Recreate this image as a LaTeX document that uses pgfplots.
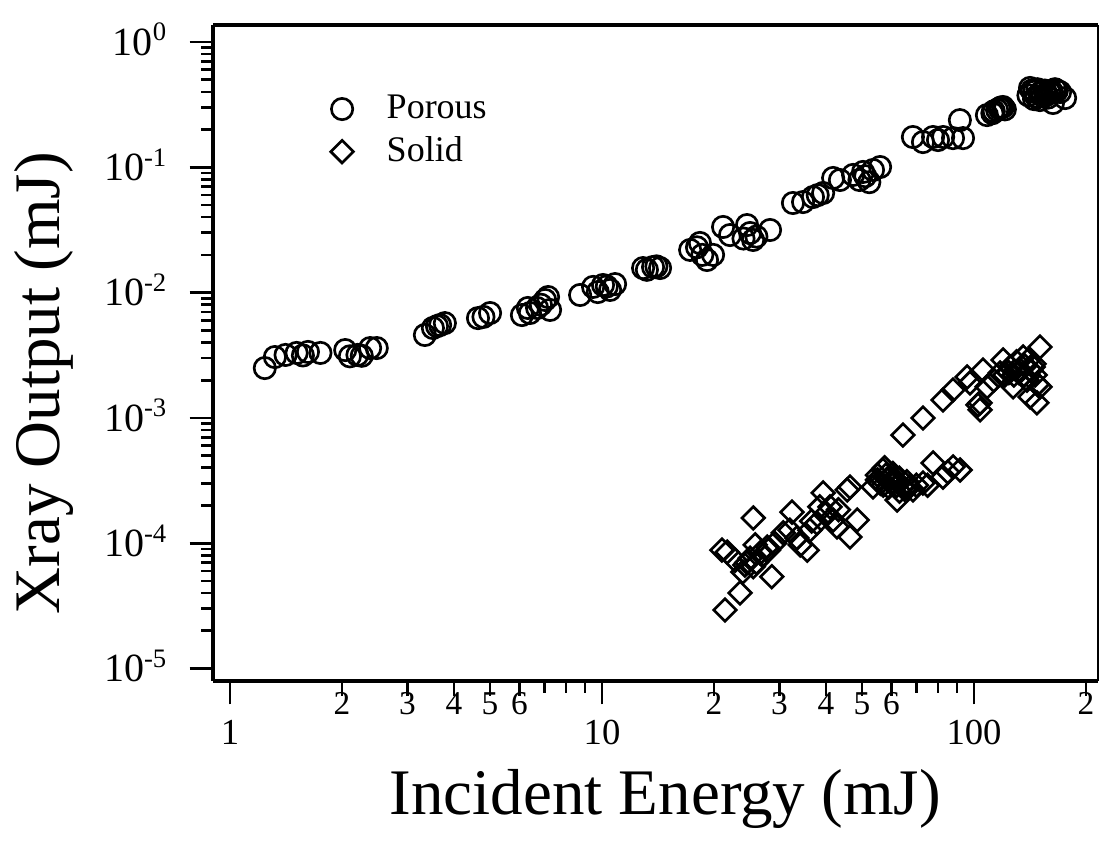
\documentclass[border=0pt]{standalone}
\usepackage{fontspec}
\setmainfont{Liberation Serif}
\usepackage{pgfplots}
\pgfplotsset{compat=1.18}

\pgfplotstableread{
x y
1.24 0.00250
1.32 0.00306
1.41 0.00318
1.51 0.00330
1.57 0.00315
1.62 0.00336
1.75 0.00330
2.04 0.00348
2.10 0.00310
2.20 0.00318
2.26 0.00313
2.38 0.00361
2.48 0.00361
3.34 0.00459
3.51 0.00522
3.60 0.00540
3.67 0.00551
3.78 0.00571
4.64 0.00626
4.80 0.00640
5.00 0.00687
6.09 0.00662
6.32 0.00754
6.40 0.00687
6.69 0.00754
6.85 0.00800
7.03 0.00873
7.16 0.00922
7.25 0.00727
8.73 0.00957
9.46 0.0111
9.74 0.0101
10.06 0.0115
10.3 0.0112
10.51 0.0105
10.84 0.0117
12.89 0.0157
13.2 0.0152
13.71 0.0160
14.0 0.0162
14.32 0.0157
17.25 0.0219
18.0 0.0230
18.33 0.0249
18.6 0.0200
19.15 0.0182
19.88 0.0200
21.15 0.0334
22.08 0.0288
24.0 0.0270
24.53 0.0346
25.0 0.0299
25.47 0.0263
26.0 0.0280
28.29 0.0316
32.6 0.0519
34.7 0.0528
36.9 0.0579
38.0 0.0600
39.3 0.0624
41.8 0.0822
43.6 0.0792
47.3 0.0869
49.2 0.0792
50.3 0.0918
51.0 0.0850
52.3 0.0761
53.5 0.0952
55.9 0.1005
68.5 0.1745
72.9 0.159
77.6 0.1745
80.0 0.165
82.6 0.1745
87.8 0.171
91.6 0.238
93.4 0.171
108.3 0.261
112.0 0.270
113.0 0.280
115.3 0.287
117.0 0.295
118.0 0.300
119.6 0.303
121.0 0.290
140.0 0.375
141.4 0.430
143.0 0.410
145.0 0.400
145.0 0.350
147.0 0.365
148.0 0.420
150.4 0.392
150.4 0.344
152.0 0.400
153.0 0.370
155.0 0.410
157.0 0.380
158.0 0.360
160.0 0.392
162.0 0.400
163.0 0.326
165.0 0.420
167.0 0.410
170.3 0.399
175.7 0.357
}\porous

\pgfplotstableread{
x y
21.0 8.82e-5
21.7 8.5e-5
21.4 2.93e-5
22.8 7.3e-5
23.5 4.01e-5
23.9 5.9e-5
24.2 6.7e-5
24.5 7.0e-5
25.0 7.6e-5
25.5 6.5e-5
25.5 1.59e-4
25.8 9.7e-5
26.0 7.0e-5
26.6 8.36e-5
27.0 8.0e-5
27.8 9.33e-5
28.0 8.8e-5
28.6 5.4e-5
29.1 1.0e-4
30.7 1.21e-4
32.0 1.27e-4
32.4 1.77e-4
33.4 1.10e-4
34.1 9.7e-5
35.6 8.8e-5
36.2 1.27e-4
36.6 1.5e-4
37.8 1.45e-4
38.5 1.95e-4
39.3 2.52e-4
39.8 1.7e-4
41.0 1.95e-4
41.8 1.53e-4
42.8 1.35e-4
43.2 1.85e-4
45.6 2.66e-4
46.4 2.81e-4
46.4 1.12e-4
48.5 1.53e-4
53.5 2.81e-4
55.0 3.2e-4
55.0 3.5e-4
56.0 3.0e-4
56.9 3.84e-4
57.0 2.9e-4
57.5 4.0e-4
58.0 3.5e-4
58.5 3.2e-4
59.0 2.8e-4
59.4 3.37e-4
60.0 3.0e-4
60.5 3.6e-4
61.0 3.3e-4
62.0 2.9e-4
62.1 2.21e-4
63.0 2.6e-4
63.0 3.3e-4
64.4 2.81e-4
65.0 2.7e-4
66.0 3.1e-4
67.0 2.8e-4
68.5 2.66e-4
70.0 2.9e-4
72.9 3.02e-4
75.0 2.9e-4
77.6 4.37e-4
82.5 3.37e-4
85.0 3.7e-4
87.8 4.06e-4
91.7 3.84e-4
64.4 7.3e-4
72.9 9.98e-4
82.5 1.39e-3
87.8 1.67e-3
95.8 2.12e-3
97.5 1.90e-3
102.5 1.27e-3
103.8 1.32e-3
103.8 1.16e-3
105.7 2.41e-3
108.4 1.77e-3
113.0 2.0e-3
117.5 2.28e-3
119.7 2.90e-3
121.0 2.2e-3
124.0 2.3e-3
125.0 2.55e-3
127.3 1.77e-3
128.0 2.2e-3
130.0 2.8e-3
132.0 2.3e-3
133.0 2.41e-3
135.5 3.06e-3
136.0 2.2e-3
137.0 2.6e-3
138.8 2.0e-3
140.0 2.9e-3
141.4 1.47e-3
142.0 2.4e-3
144.2 2.55e-3
145.0 2.7e-3
146.0 2.2e-3
147.6 1.32e-3
148.0 1.85e-3
150.4 1.77e-3
150.4 3.68e-3
}\solid

\begin{document}
\begin{tikzpicture}
\begin{axis}[
    xmode=log, ymode=log,
    scale only axis,
    width=265.5pt, height=196.8pt,
    xmin=0.9, xmax=215.4,
    ymin=7.95e-6, ymax=1.367,
    axis lines*=left,
    axis line style={line width=1pt},
    tick align=outside,
    major tick length=7pt,
    minor tick length=3.5pt,
    every tick/.style={black, line width=0.8pt},
    xtick={1,10,100},
    xticklabels={1,10,100},
    xticklabel style={font=\fontsize{11}{13}\selectfont, anchor=base, yshift=-12pt},
    extra x ticks={2,3,4,5,6,20,30,40,50,60,200},
    extra x tick labels={2,3,4,5,6,2,3,4,5,6,2},
    extra x tick style={major tick length=4.5pt,
        xticklabel style={font=\fontsize{10}{12}\selectfont, anchor=base, yshift=6.5pt}},
    ytick={1e-5,1e-4,1e-3,1e-2,1e-1,1},
    yticklabels={10\textsuperscript{-5},10\textsuperscript{-4},10\textsuperscript{-3},10\textsuperscript{-2},10\textsuperscript{-1},10\textsuperscript{0}},
    yticklabel style={font=\fontsize{12}{14}\selectfont, anchor=base east, yshift=-4pt, xshift=-3pt},
    xlabel={Incident Energy (mJ)},
    ylabel={Xray Output (mJ)},
    xlabel style={font=\fontsize{19.5}{22}\selectfont, at={(axis description cs:0.511,-0.204)}, anchor=base},
    ylabel style={font=\fontsize{19.5}{22}\selectfont, at={(axis description cs:-0.173,0.454)}, anchor=base},
    legend cell align=left,
    legend style={draw=none, fill=none, font=\fontsize{10.8}{13}\selectfont,
        at={(axis description cs:0.121,0.915)}, anchor=north west, row sep=0pt,
        /tikz/every odd column/.append style={column sep=8pt}},
    clip=false,
]
\addplot[only marks, mark=o, mark size=3.2pt, mark options={line width=0.8pt}] table {\porous};
\addlegendentry{Porous}
\addplot[only marks, mark=square, mark size=2.4pt, mark options={rotate=45, line width=0.8pt}] table {\solid};
\addlegendentry{Solid}
\draw[line width=1pt] (rel axis cs:0,1) -- (rel axis cs:1,1);
\draw[line width=0.4pt] (rel axis cs:1,0) -- (rel axis cs:1,1);
\coordinate (bl) at (rel axis cs:-0.2407,-0.247);
\coordinate (tr) at (rel axis cs:1.0011,1.0381);
\end{axis}
\pgfresetboundingbox
\path[use as bounding box] (bl) rectangle (tr);
\end{tikzpicture}
\end{document}
